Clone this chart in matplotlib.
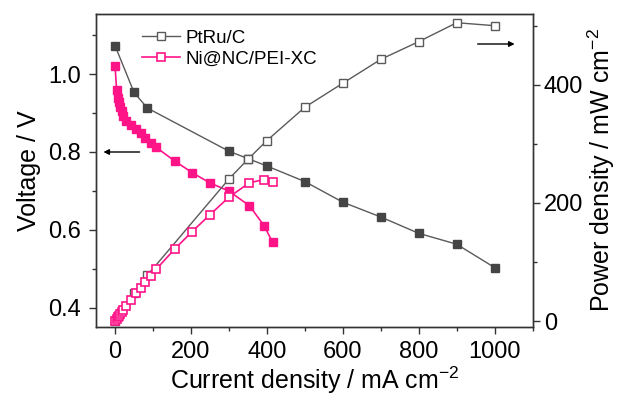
import matplotlib
matplotlib.use('Agg')
import matplotlib.pyplot as plt
from matplotlib.ticker import MultipleLocator

plt.rcParams['font.family'] = ['Liberation Sans', 'DejaVu Sans']
plt.rcParams['mathtext.fontset'] = 'custom'
plt.rcParams['mathtext.rm'] = 'Liberation Sans'
plt.rcParams['mathtext.it'] = 'Liberation Sans:italic'

# PtRu/C reference catalyst
ptru_i = [0, 50, 85, 300, 350, 400, 500, 600, 700, 800, 900, 1000]
ptru_v = [1.073, 0.953, 0.913, 0.802, 0.783, 0.764, 0.724, 0.671, 0.633, 0.591, 0.563, 0.503]
ptru_p = [0, 47.6, 77.6, 240.6, 274, 305.6, 362, 402.6, 443, 473, 505, 500]

# Ni@NC/PEI-XC
ni_i = [0, 4, 7, 10, 13, 17, 22, 30, 42, 55, 67, 80, 94, 108, 157, 203, 249, 299, 354, 393, 415]
ni_v = [1.021, 0.96, 0.94, 0.928, 0.916, 0.905, 0.893, 0.88, 0.869, 0.858, 0.848, 0.835,
        0.822, 0.812, 0.777, 0.747, 0.721, 0.700, 0.662, 0.610, 0.568]
ni_p = [0, 3.8, 6.6, 9.3, 11.9, 15.4, 19.6, 26.4, 36.5, 47.2, 56.8, 66.8, 77.3, 87.7,
        122, 151.6, 179.5, 209.3, 234.3, 239.7, 235.7]

gray = '#454545'
gline = '#5a5a5a'
pink = '#ff1488'

fig = plt.figure(figsize=(6.2, 3.96), dpi=100)
ax = fig.add_axes([0.155, 0.174, 0.704, 0.791])
ax2 = ax.twinx()

ax.plot(ptru_i, ptru_v, '-s', color=gline, lw=1, mfc=gray, mec=gray, ms=5.8, zorder=3)
ax.plot(ni_i, ni_v, '-s', color=pink, lw=1.2, mfc=pink, mec=pink, ms=5.3, zorder=3)
ax2.plot(ptru_i, ptru_p, '-s', color=gline, lw=1, mfc='white', mec=gline, mew=1,
         ms=5.2, label='PtRu/C', zorder=4)
ax2.plot(ni_i, ni_p, '-s', color=pink, lw=1.2, mfc='white', mec=pink, mew=1.2,
         ms=5.5, label='Ni@NC/PEI-XC', zorder=4)

ax.set_xlim(-50, 1100)
ax.set_ylim(0.35, 1.155)
ax2.set_ylim(-10, 520)
ax.xaxis.set_major_locator(MultipleLocator(200))
ax.xaxis.set_minor_locator(MultipleLocator(100))
ax.yaxis.set_major_locator(MultipleLocator(0.2))
ax.yaxis.set_minor_locator(MultipleLocator(0.1))
ax2.yaxis.set_major_locator(MultipleLocator(200))
ax2.yaxis.set_minor_locator(MultipleLocator(100))
ax.yaxis.set_major_formatter(plt.FormatStrFormatter('%.1f'))

for a in (ax, ax2):
    a.tick_params(which='major', direction='out', length=5, width=1, labelsize=17,
                  color='#333333')
    a.tick_params(which='minor', direction='out', length=3, width=1, color='#333333')
    for s in a.spines.values():
        s.set_color('#333333')
        s.set_linewidth(1)
ax.tick_params(top=False, which='both')
ax.tick_params(axis='y', which='major', pad=6)
ax.tick_params(axis='x', which='major', pad=5)
ax2.tick_params(axis='y', which='major', pad=3)

ax.set_xlabel('Current density / mA cm$^{-2}$', fontsize=18, labelpad=1)
ax.set_ylabel('Voltage / V', fontsize=18, labelpad=5)
ax2.set_ylabel('Power density / mW cm$^{-2}$', fontsize=18, labelpad=2)

# arrows pointing to the relevant axes
ax.annotate('', xy=(-38, 0.8), xytext=(72, 0.8),
            arrowprops=dict(arrowstyle='-|>', color='black', lw=1, mutation_scale=8))
ax2.annotate('', xy=(1060, 469), xytext=(948, 469),
             arrowprops=dict(arrowstyle='-|>', color='black', lw=1, mutation_scale=8))

ax2.legend(loc='upper left', bbox_to_anchor=(0.08, 0.985), frameon=False, fontsize=13.5,
           handlelength=2, handletextpad=0.3, borderaxespad=0.2, labelspacing=0.2)

fig.savefig('out.png', dpi=100)
